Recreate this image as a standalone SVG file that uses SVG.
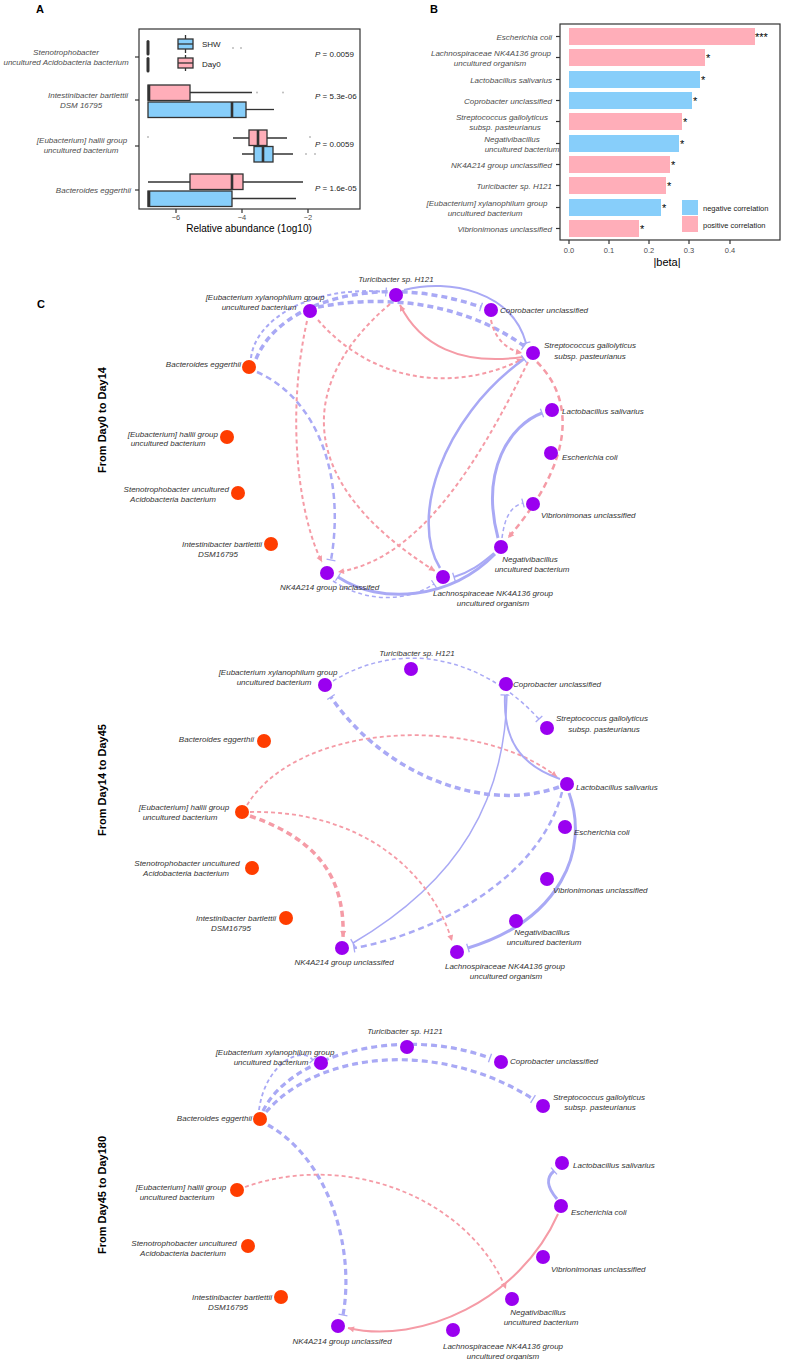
<svg xmlns="http://www.w3.org/2000/svg" width="789" height="1360" viewBox="0 0 789 1360">
<style>
text{font-family:"Liberation Sans",Arial,sans-serif}
.pl{font-size:11px;font-weight:bold;fill:#000}
.ay{font-size:8px;font-style:italic;fill:#4d4d4d}
.tk{font-size:7.5px;fill:#4d4d4d}
.pv{font-size:8px;fill:#222}
.lab{font-size:8px;font-style:italic;fill:#333}
.side{font-size:11px;font-weight:bold;fill:#000}
.fr{fill:none;stroke:#333;stroke-width:1.2}
.bx{stroke:#333;stroke-width:1.3}
.wk{stroke:#333;stroke-width:1.3;fill:none}
.md{stroke:#333;stroke-width:2.6}
.out{fill:#bbb}
.pk{fill:#FFAEB9}
.bl{fill:#87CEFA}
.neg{fill:none;stroke:#A9A9F5}
.pos{fill:none;stroke:#F59BA6}
.d1{stroke-dasharray:4 3}
.d2{stroke-dasharray:6 4}
.pur{fill:#9A00F0}
.red{fill:#FF3D00}
</style>
<defs>
<marker id="tb" viewBox="-2 -5 4 10" markerWidth="4" markerHeight="10" refX="0" refY="0" orient="auto" markerUnits="userSpaceOnUse"><path d="M0,-4.5V4.5" stroke="#A9A9F5" stroke-width="1.3"/></marker>
<marker id="ar" viewBox="-7 -4 8 8" markerWidth="8" markerHeight="8" refX="0" refY="0" orient="auto" markerUnits="userSpaceOnUse"><path d="M-6,-3L0,0L-6,3Z" fill="#F59BA6"/></marker>
</defs>

<!-- Panel A -->
<g id="panelA">
<text class="pl" x="36" y="13">A</text>
<rect class="fr" x="139" y="29" width="221" height="180"/>
<g stroke="#333" stroke-width="1.2">
<line x1="135" y1="57" x2="139" y2="57"/><line x1="135" y1="100" x2="139" y2="100"/><line x1="135" y1="146" x2="139" y2="146"/><line x1="135" y1="190" x2="139" y2="190"/>
<line x1="176" y1="209" x2="176" y2="213"/><line x1="242" y1="209" x2="242" y2="213"/><line x1="308" y1="209" x2="308" y2="213"/>
</g>
<text class="tk" x="176" y="220" text-anchor="middle">−6</text>
<text class="tk" x="242" y="220" text-anchor="middle">−4</text>
<text class="tk" x="308" y="220" text-anchor="middle">−2</text>
<text x="249" y="232" text-anchor="middle" font-size="10" fill="#000">Relative abundance (1og10)</text>
<text class="ay" x="66" y="55" text-anchor="middle">Stenotrophobacter</text>
<text class="ay" x="66" y="65" text-anchor="middle">uncultured Acidobacteria bacterium</text>
<text class="ay" x="88" y="98" text-anchor="middle">Intestinibacter bartlettii</text>
<text class="ay" x="81" y="108" text-anchor="middle">DSM 16795</text>
<text class="ay" x="82" y="143" text-anchor="middle">[Eubacterium] hallii group</text>
<text class="ay" x="81" y="153" text-anchor="middle">uncultured bacterium</text>
<text class="ay" x="131" y="193" text-anchor="end">Bacteroides eggerthii</text>
<!-- Steno -->
<rect x="146.5" y="40" width="3" height="15.5" rx="1.5" fill="#333"/>
<rect x="146.5" y="57" width="3" height="15.5" rx="1.5" fill="#333"/>
<circle class="out" cx="233" cy="48" r="1"/><circle class="out" cx="241" cy="48" r="1"/>
<!-- legend -->
<line class="wk" x1="185.5" y1="35" x2="185.5" y2="53"/>
<rect class="bx bl" x="178" y="39" width="15" height="10"/><line class="wk" x1="178" y1="44" x2="193" y2="44"/>
<line class="wk" x1="185.5" y1="55" x2="185.5" y2="71"/>
<rect class="bx pk" x="178" y="58" width="15" height="10"/><line class="wk" x1="178" y1="63" x2="193" y2="63"/>
<text class="pv" x="202" y="47">SHW</text>
<text class="pv" x="202" y="67">Day0</text>
<!-- Intestinibacter -->
<line class="wk" x1="190" y1="92.5" x2="252" y2="92.5"/>
<rect class="bx pk" x="148" y="85" width="42" height="15.5"/><line class="md" x1="149" y1="85" x2="149" y2="100.5"/>
<circle class="out" cx="257" cy="92.5" r="1"/><circle class="out" cx="283" cy="92.5" r="1"/>
<line class="wk" x1="246" y1="109.5" x2="274" y2="109.5"/>
<rect class="bx bl" x="148" y="102" width="98" height="15.5"/><line class="md" x1="232" y1="102" x2="232" y2="117.5"/>
<!-- hallii -->
<circle class="out" cx="148" cy="137" r="1"/><circle class="out" cx="310" cy="137" r="1"/>
<line class="wk" x1="233" y1="138" x2="287" y2="138"/>
<rect class="bx pk" x="249" y="130" width="18" height="15.5"/><line class="md" x1="258" y1="130" x2="258" y2="145.5"/>
<line class="wk" x1="242" y1="154" x2="293" y2="154"/>
<rect class="bx bl" x="254" y="146.5" width="19" height="15.5"/><line class="md" x1="263" y1="146.5" x2="263" y2="162"/>
<circle class="out" cx="306" cy="154" r="1"/><circle class="out" cx="315" cy="154" r="1"/>
<!-- Bacteroides -->
<line class="wk" x1="148" y1="182" x2="303" y2="182"/>
<rect class="bx pk" x="190" y="174" width="53" height="15.5"/><line class="md" x1="232" y1="174" x2="232" y2="189.5"/>
<line class="wk" x1="232" y1="198.5" x2="296" y2="198.5"/>
<rect class="bx bl" x="148" y="191" width="84" height="15.5"/><line class="md" x1="149" y1="191" x2="149" y2="206.5"/>
<text class="pv" x="315" y="57"><tspan font-style="italic">P</tspan> = 0.0059</text>
<text class="pv" x="315" y="99"><tspan font-style="italic">P</tspan> = 5.3e-06</text>
<text class="pv" x="315" y="147"><tspan font-style="italic">P</tspan> = 0.0059</text>
<text class="pv" x="315" y="191"><tspan font-style="italic">P</tspan> = 1.6e-05</text>
</g>

<!-- Panel B -->
<g id="panelB">
<text class="pl" x="430" y="13">B</text>
<rect class="fr" x="560" y="24" width="220" height="216"/>
<rect class="pk" x="569" y="28" width="186" height="17"/>
<rect class="pk" x="569" y="49" width="136" height="17"/>
<rect class="bl" x="569" y="71" width="131" height="17"/>
<rect class="bl" x="569" y="92" width="123" height="17"/>
<rect class="pk" x="569" y="113" width="113" height="17"/>
<rect class="bl" x="569" y="135" width="110" height="17"/>
<rect class="pk" x="569" y="156" width="101" height="17"/>
<rect class="pk" x="569" y="177" width="97" height="17"/>
<rect class="bl" x="569" y="199" width="92" height="17"/>
<rect class="pk" x="569" y="220" width="70" height="17"/>
<g font-size="11" fill="#000">
<text x="755" y="41">***</text>
<text x="706" y="62">*</text>
<text x="701" y="84">*</text>
<text x="693" y="105">*</text>
<text x="683" y="126">*</text>
<text x="680" y="148">*</text>
<text x="671" y="169">*</text>
<text x="667" y="190">*</text>
<text x="662" y="212">*</text>
<text x="640" y="233">*</text>
</g>
<g stroke="#333" stroke-width="1.2">
<line x1="556" y1="36.5" x2="560" y2="36.5"/><line x1="556" y1="57.5" x2="560" y2="57.5"/><line x1="556" y1="79.5" x2="560" y2="79.5"/><line x1="556" y1="100.5" x2="560" y2="100.5"/><line x1="556" y1="121.5" x2="560" y2="121.5"/><line x1="556" y1="143.5" x2="560" y2="143.5"/><line x1="556" y1="164.5" x2="560" y2="164.5"/><line x1="556" y1="185.5" x2="560" y2="185.5"/><line x1="556" y1="207.5" x2="560" y2="207.5"/><line x1="556" y1="228.5" x2="560" y2="228.5"/>
<line x1="569" y1="240" x2="569" y2="244"/><line x1="609" y1="240" x2="609" y2="244"/><line x1="649" y1="240" x2="649" y2="244"/><line x1="689" y1="240" x2="689" y2="244"/><line x1="730" y1="240" x2="730" y2="244"/>
</g>
<text class="ay" x="552" y="39.5" text-anchor="end">Escherichia coli</text>
<text class="ay" x="491" y="56" text-anchor="middle">Lachnospiraceae NK4A136 group</text>
<text class="ay" x="490" y="66" text-anchor="middle">uncultured organism</text>
<text class="ay" x="552" y="82.5" text-anchor="end">Lactobacillus salivarius</text>
<text class="ay" x="552" y="103.5" text-anchor="end">Coprobacter unclassified</text>
<text class="ay" x="502" y="120" text-anchor="middle">Streptococcus gallolyticus</text>
<text class="ay" x="505" y="130" text-anchor="middle">subsp. pasteurianus</text>
<text class="ay" x="512" y="142" text-anchor="middle">Negativibacillus</text>
<text class="ay" x="522" y="152" text-anchor="middle">uncultured bacterium</text>
<text class="ay" x="552" y="167.5" text-anchor="end">NK4A214 group unclassified</text>
<text class="ay" x="552" y="188.5" text-anchor="end">Turicibacter sp. H121</text>
<text class="ay" x="487" y="206" text-anchor="middle">[Eubacterium] xylanophilum group</text>
<text class="ay" x="485" y="216" text-anchor="middle">uncultured bacterium</text>
<text class="ay" x="552" y="231.5" text-anchor="end">Vibrionimonas unclassified</text>
<text class="tk" x="569" y="253" text-anchor="middle">0.0</text>
<text class="tk" x="609" y="253" text-anchor="middle">0.1</text>
<text class="tk" x="649" y="253" text-anchor="middle">0.2</text>
<text class="tk" x="689" y="253" text-anchor="middle">0.3</text>
<text class="tk" x="730" y="253" text-anchor="middle">0.4</text>
<text x="667" y="266" text-anchor="middle" font-size="11" fill="#000">|beta|</text>
<rect class="bl" x="682" y="200" width="16" height="15"/>
<rect class="pk" x="682" y="216" width="16" height="16"/>
<text x="703" y="211" font-size="7.5" fill="#222">negative correlation</text>
<text x="703" y="228" font-size="7.5" fill="#222">positive correlation</text>
</g>

<!-- Panel C -->
<text class="pl" x="37" y="308">C</text>
<text class="side" transform="translate(106,420) rotate(-90)" text-anchor="middle">From Day0 to Day14</text>
<text class="side" transform="translate(106,780) rotate(-90)" text-anchor="middle">From Day14 to Day45</text>
<text class="side" transform="translate(106,1195) rotate(-90)" text-anchor="middle">From Day45 to Day180</text>

<!-- Network 1 edges -->
<g id="edges1">
<path class="neg d1" stroke-width="2" d="M251,358 C255,320 310,285 386,292" marker-end="url(#tb)"/>
<path class="neg d2" stroke-width="3.5" d="M256,359 C280,300 380,272 481,307" marker-end="url(#tb)"/>
<path class="neg d2" stroke-width="3.5" d="M318,307 C380,295 460,300 524,346" marker-end="url(#tb)"/>
<path class="neg" stroke-width="2" d="M404,290 C450,278 512,292 526,343" marker-end="url(#tb)"/>
<path class="pos" stroke-width="2" d="M523,357 C460,366 420,345 400,305" marker-end="url(#ar)"/>
<path class="pos d1" stroke-width="2" d="M491,320 C495,340 508,350 522,353" marker-end="url(#ar)"/>
<path class="pos d1" stroke-width="2" d="M318,320 C370,380 450,395 523,359" marker-end="url(#ar)"/>
<path class="pos d1" stroke-width="2" d="M307,321 C285,420 300,520 322,562" marker-end="url(#ar)"/>
<path class="pos d1" stroke-width="2" d="M390,304 C300,380 290,480 435,571" marker-end="url(#ar)"/>
<path class="neg d2" stroke-width="2.5" d="M257,372 C320,400 345,480 331,560" marker-end="url(#tb)"/>
<path class="pos d1" stroke-width="2" d="M528,362 C480,460 420,560 338,572" marker-end="url(#ar)"/>
<path class="pos d2" stroke-width="2.5" d="M537,362 C575,400 575,460 508,538" marker-end="url(#ar)"/>
<path class="neg" stroke-width="2.5" d="M440,568 C410,520 440,420 524,359" marker-end="url(#tb)"/>
<path class="neg" stroke-width="3" d="M498,538 C480,470 510,425 542,413" marker-end="url(#tb)"/>
<path class="neg d1" stroke-width="1.5" d="M502,538 C505,515 512,506 523,503" marker-end="url(#tb)"/>
<path class="neg" stroke-width="3" d="M495,554 C450,600 380,605 338,577" marker-end="url(#tb)"/>
<path class="neg" stroke-width="2" d="M494,553 C480,565 470,572 454,577" marker-end="url(#tb)"/>
<path class="neg d1" stroke-width="1.5" d="M333,581 C370,605 410,600 434,584" marker-end="url(#tb)"/>
</g>

<!-- Network 1 nodes -->
<g id="n1-tur"><circle class="pur" cx="396" cy="295" r="7"/><text class="lab" x="396" y="282" text-anchor="middle">Turicibacter sp. H121</text></g>
<g id="n1-cop"><circle class="pur" cx="491" cy="310" r="7"/><text class="lab" x="500" y="313">Coprobacter unclassified</text></g>
<g id="n1-str"><circle class="pur" cx="533" cy="353" r="7"/><text class="lab" x="590" y="348" text-anchor="middle">Streptococcus gallolyticus</text><text class="lab" x="590" y="359" text-anchor="middle">subsp. pasteurianus</text></g>
<g id="n1-lac"><circle class="pur" cx="552" cy="410" r="7"/><text class="lab" x="562" y="414">Lactobacillus salivarius</text></g>
<g id="n1-eco"><circle class="pur" cx="551" cy="453" r="7"/><text class="lab" x="562" y="460">Escherichia coli</text></g>
<g id="n1-vib"><circle class="pur" cx="533" cy="504" r="7"/><text class="lab" x="541" y="518">Vibrionimonas unclassified</text></g>
<g id="n1-neg"><circle class="pur" cx="501" cy="547" r="7"/><text class="lab" x="530" y="562" text-anchor="middle">Negativibacillus</text><text class="lab" x="532" y="572" text-anchor="middle">uncultured bacterium</text></g>
<g id="n1-lach"><circle class="pur" cx="443" cy="577" r="7"/><text class="lab" x="493" y="596" text-anchor="middle">Lachnospiraceae NK4A136 group</text><text class="lab" x="493" y="606" text-anchor="middle">uncultured organism</text></g>
<g id="n1-nk"><circle class="pur" cx="327" cy="573" r="7"/><text class="lab" x="280" y="590">NK4A214 group unclassifed</text></g>
<g id="n1-int"><circle class="red" cx="271" cy="544" r="7"/><text class="lab" x="262" y="547" text-anchor="end">Intestinibacter bartlettii</text><text class="lab" x="218" y="557" text-anchor="middle">DSM16795</text></g>
<g id="n1-ste"><circle class="red" cx="238" cy="493" r="7"/><text class="lab" x="229" y="492" text-anchor="end">Stenotrophobacter uncultured</text><text class="lab" x="173" y="502" text-anchor="middle">Acidobacteria bacterium</text></g>
<g id="n1-hal"><circle class="red" cx="227" cy="437" r="7"/><text class="lab" x="218" y="437" text-anchor="end">[Eubacterium] hallii group</text><text class="lab" x="168" y="446" text-anchor="middle">uncultured bacterium</text></g>
<g id="n1-bac"><circle class="red" cx="249" cy="367" r="7"/><text class="lab" x="241" y="367" text-anchor="end">Bacteroides eggerthii</text></g>
<g id="n1-xyl"><circle class="pur" cx="310" cy="311" r="7"/><text class="lab" x="265" y="300" text-anchor="middle">[Eubacterium xylanophilum group</text><text class="lab" x="259" y="310" text-anchor="middle">uncultured bacterium</text></g>

<!-- Network 2 edges -->
<g id="edges2">
<path class="neg d1" stroke-width="1.5" d="M333,681 C400,640 480,655 539,719" marker-end="url(#tb)"/>
<path class="neg d2" stroke-width="3.5" d="M559,787 C480,815 380,770 331,697" marker-end="url(#tb)"/>
<path class="pos d1" stroke-width="1.8" d="M247,805 C300,720 480,715 557,777" marker-end="url(#ar)"/>
<path class="neg" stroke-width="2" d="M560,779 C520,765 503,740 505,695" marker-end="url(#tb)"/>
<path class="neg" stroke-width="1.5" d="M507,694 C505,800 460,880 353,943" marker-end="url(#tb)"/>
<path class="neg" stroke-width="3" d="M569,793 C590,850 560,920 468,948" marker-end="url(#tb)"/>
<path class="neg d2" stroke-width="2.5" d="M562,792 C540,880 430,935 354,948" marker-end="url(#tb)"/>
<path class="pos d2" stroke-width="3.5" d="M250,816 C320,840 345,880 343,937" marker-end="url(#ar)"/>
<path class="pos d1" stroke-width="1.8" d="M250,812 C360,810 430,870 452,941" marker-end="url(#ar)"/>
</g>

<!-- Network 2 nodes -->
<g id="n2-tur"><circle class="pur" cx="411" cy="669" r="7"/><text class="lab" x="417" y="656" text-anchor="middle">Turicibacter sp. H121</text></g>
<g id="n2-cop"><circle class="pur" cx="506" cy="684" r="7"/><text class="lab" x="513" y="687">Coprobacter unclassified</text></g>
<g id="n2-str"><circle class="pur" cx="547" cy="728" r="7"/><text class="lab" x="602" y="721" text-anchor="middle">Streptococcus gallolyticus</text><text class="lab" x="604" y="732" text-anchor="middle">subsp. pasteurianus</text></g>
<g id="n2-lac"><circle class="pur" cx="567" cy="784" r="7"/><text class="lab" x="576" y="790">Lactobacillus salivarius</text></g>
<g id="n2-eco"><circle class="pur" cx="565" cy="827" r="7"/><text class="lab" x="574" y="835">Escherichia coli</text></g>
<g id="n2-vib"><circle class="pur" cx="547" cy="879" r="7"/><text class="lab" x="553" y="893">Vibrionimonas unclassified</text></g>
<g id="n2-neg"><circle class="pur" cx="516" cy="921" r="7"/><text class="lab" x="542" y="935" text-anchor="middle">Negativibacillus</text><text class="lab" x="544" y="945" text-anchor="middle">uncultured bacterium</text></g>
<g id="n2-lach"><circle class="pur" cx="457" cy="952" r="7"/><text class="lab" x="505" y="969" text-anchor="middle">Lachnospiraceae NK4A136 group</text><text class="lab" x="506" y="979" text-anchor="middle">uncultured organism</text></g>
<g id="n2-nk"><circle class="pur" cx="342" cy="948" r="7"/><text class="lab" x="344" y="965" text-anchor="middle">NK4A214 group unclassifed</text></g>
<g id="n2-int"><circle class="red" cx="286" cy="918" r="7"/><text class="lab" x="276" y="921" text-anchor="end">Intestinibacter bartlettii</text><text class="lab" x="231" y="931" text-anchor="middle">DSM16795</text></g>
<g id="n2-ste"><circle class="red" cx="252" cy="868" r="7"/><text class="lab" x="187" y="866" text-anchor="middle">Stenotrophobacter uncultured</text><text class="lab" x="186" y="876" text-anchor="middle">Acidobacteria bacterium</text></g>
<g id="n2-hal"><circle class="red" cx="242" cy="812" r="7"/><text class="lab" x="184" y="810" text-anchor="middle">[Eubacterium] hallii group</text><text class="lab" x="180" y="820" text-anchor="middle">uncultured bacterium</text></g>
<g id="n2-bac"><circle class="red" cx="264" cy="741" r="7"/><text class="lab" x="254" y="742" text-anchor="end">Bacteroides eggerthii</text></g>
<g id="n2-xyl"><circle class="pur" cx="325" cy="685" r="7"/><text class="lab" x="278" y="675" text-anchor="middle">[Eubacterium xylanophilum group</text><text class="lab" x="274" y="685" text-anchor="middle">uncultured bacterium</text></g>

<!-- Network 3 edges -->
<g id="edges3">
<path class="neg d1" stroke-width="1.8" d="M259,1110 C265,1065 300,1045 313,1060" marker-end="url(#tb)"/>
<path class="neg d2" stroke-width="3.2" d="M263,1111 C290,1055 400,1025 490,1058" marker-end="url(#tb)"/>
<path class="neg d2" stroke-width="3.2" d="M266,1112 C320,1050 440,1040 533,1099" marker-end="url(#tb)"/>
<path class="neg d2" stroke-width="3.2" d="M268,1125 C330,1160 355,1250 343,1315" marker-end="url(#tb)"/>
<path class="pos d1" stroke-width="1.8" d="M245,1187 C350,1150 470,1200 506,1289" marker-end="url(#ar)"/>
<path class="pos" stroke-width="2" d="M558,1214 C520,1300 420,1345 348,1328" marker-end="url(#ar)"/>
<path class="neg" stroke-width="3" d="M557,1199 C545,1185 547,1177 554,1171" marker-end="url(#tb)"/>
</g>

<!-- Network 3 nodes -->
<g id="n3-tur"><circle class="pur" cx="407" cy="1047" r="7"/><text class="lab" x="405" y="1034" text-anchor="middle">Turicibacter sp. H121</text></g>
<g id="n3-cop"><circle class="pur" cx="501" cy="1062" r="7"/><text class="lab" x="510" y="1064">Coprobacter unclassified</text></g>
<g id="n3-str"><circle class="pur" cx="543" cy="1106" r="7"/><text class="lab" x="599" y="1100" text-anchor="middle">Streptococcus gallolyticus</text><text class="lab" x="600" y="1110" text-anchor="middle">subsp. pasteurianus</text></g>
<g id="n3-lac"><circle class="pur" cx="562" cy="1163" r="7"/><text class="lab" x="573" y="1168">Lactobacillus salivarius</text></g>
<g id="n3-eco"><circle class="pur" cx="561" cy="1206" r="7"/><text class="lab" x="571" y="1215">Escherichia coli</text></g>
<g id="n3-vib"><circle class="pur" cx="543" cy="1257" r="7"/><text class="lab" x="551" y="1272">Vibrionimonas unclassified</text></g>
<g id="n3-neg"><circle class="pur" cx="512" cy="1299" r="7"/><text class="lab" x="538" y="1315" text-anchor="middle">Negativibacillus</text><text class="lab" x="541" y="1325" text-anchor="middle">uncultured bacterium</text></g>
<g id="n3-lach"><circle class="pur" cx="453" cy="1330" r="7"/><text class="lab" x="503" y="1349" text-anchor="middle">Lachnospiraceae NK4A136 group</text><text class="lab" x="503" y="1359" text-anchor="middle">uncultured organism</text></g>
<g id="n3-nk"><circle class="pur" cx="338" cy="1326" r="7"/><text class="lab" x="342" y="1344" text-anchor="middle">NK4A214 group unclassifed</text></g>
<g id="n3-int"><circle class="red" cx="281" cy="1297" r="7"/><text class="lab" x="272" y="1300" text-anchor="end">Intestinibacter bartlettii</text><text class="lab" x="228" y="1310" text-anchor="middle">DSM16795</text></g>
<g id="n3-ste"><circle class="red" cx="248" cy="1246" r="7"/><text class="lab" x="184" y="1246" text-anchor="middle">Stenotrophobacter uncultured</text><text class="lab" x="183" y="1256" text-anchor="middle">Acidobacteria bacterium</text></g>
<g id="n3-hal"><circle class="red" cx="237" cy="1190" r="7"/><text class="lab" x="181" y="1190" text-anchor="middle">[Eubacterium] hallii group</text><text class="lab" x="177" y="1200" text-anchor="middle">uncultured bacterium</text></g>
<g id="n3-bac"><circle class="red" cx="260" cy="1119" r="7"/><text class="lab" x="252" y="1121" text-anchor="end">Bacteroides eggerthii</text></g>
<g id="n3-xyl"><circle class="pur" cx="321" cy="1063" r="7"/><text class="lab" x="275" y="1055" text-anchor="middle">[Eubacterium xylanophilum group</text><text class="lab" x="271" y="1065" text-anchor="middle">uncultured bacterium</text></g>
</svg>
